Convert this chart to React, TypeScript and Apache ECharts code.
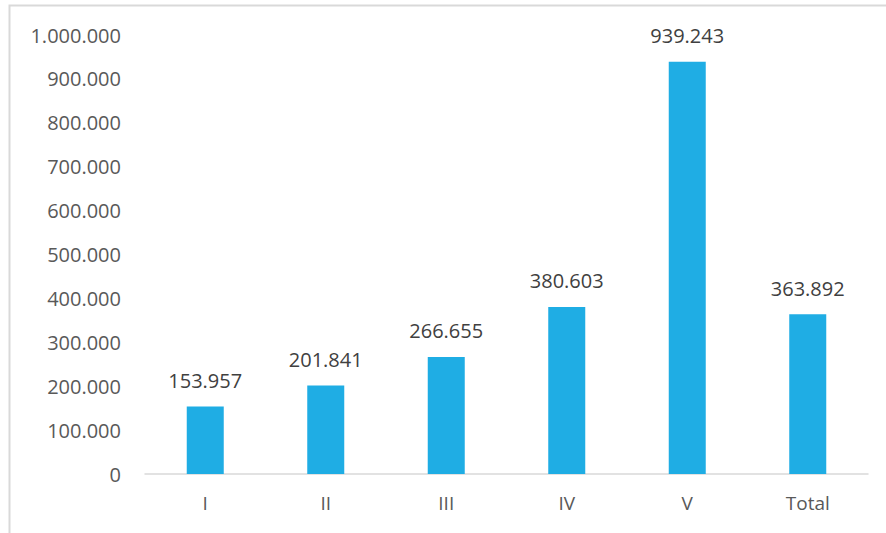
import React, { useEffect, useRef } from "react";
import * as echarts from "echarts";

const categories = ["I", "II", "III", "IV", "V", "Total"];
const values = [153957, 201841, 266655, 380603, 939243, 363892];
const yMax = 1000000;
const yInterval = 100000;

function fmt(v: number): string {
  return String(Math.round(v)).replace(/\B(?=(\d{3})+(?!\d))/g, ".");
}

export default function App() {
  const ref = useRef<HTMLDivElement>(null);
  useEffect(() => {
    if (!ref.current) return;
    const chart = echarts.init(ref.current, undefined, { renderer: "svg" });
    const font = "'Open Sans', 'Liberation Sans', sans-serif";
    chart.setOption({
      animation: false,
      backgroundColor: "#ffffff",
      graphic: [
        {
          type: "rect",
          shape: { x: 9.5, y: 5.5, width: 900, height: 600 },
          style: { fill: "none", stroke: "#d9d9d9", lineWidth: 2 },
          silent: true,
        },
      ],
      grid: { left: 145, right: 18, top: 35, bottom: 59, containLabel: false },
      xAxis: {
        type: "category",
        data: categories,
        axisLine: { lineStyle: { color: "#d9d9d9", width: 1.5 } },
        axisTick: { show: false },
        axisLabel: { color: "#595959", fontSize: 19, fontFamily: font, margin: 19 },
      },
      yAxis: {
        type: "value",
        min: 0,
        max: yMax,
        interval: yInterval,
        splitLine: { show: false },
        axisLine: { show: false },
        axisTick: { show: false },
        axisLabel: {
          color: "#595959",
          fontSize: 20,
          fontFamily: font,
          margin: 24,
          formatter: (v: number) => fmt(v),
        },
      },
      series: [
        {
          type: "bar",
          data: values,
          barWidth: 37,
          itemStyle: { color: "#1FADE4" },
          label: {
            show: true,
            position: "top",
            distance: 16,
            color: "#404040",
            fontSize: 20,
            fontFamily: font,
            formatter: (p: any) => fmt(p.value),
          },
        },
      ],
    });
    return () => chart.dispose();
  }, []);
  return <div ref={ref} style={{ width: 886, height: 533, position: "absolute", left: 0, top: 0 }} />;
}
